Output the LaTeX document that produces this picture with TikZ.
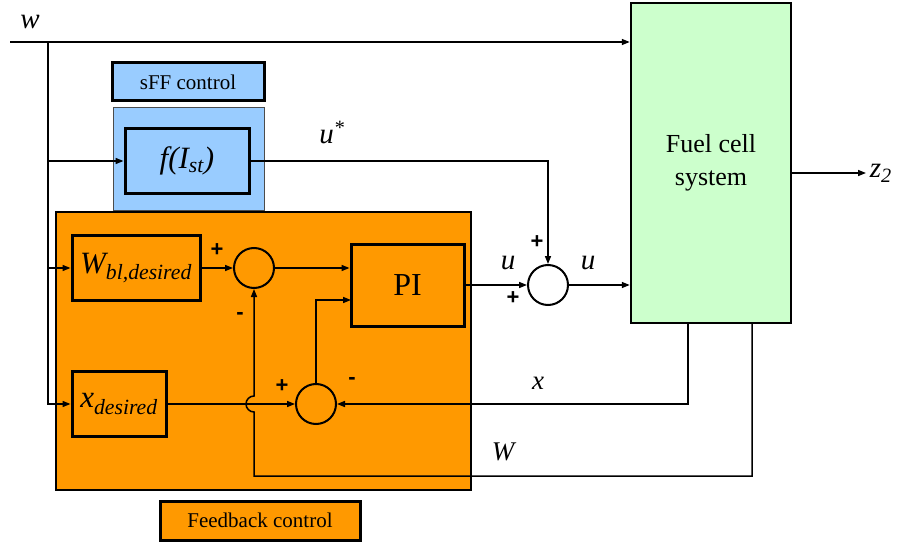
\documentclass[tikz,border=0pt]{standalone}
\usepackage{fontspec}
\setmainfont{Liberation Serif}
\newfontfamily\signfont{Liberation Sans}
\usetikzlibrary{arrows.meta}

\definecolor{laranja}{HTML}{FF9900}
\definecolor{azul}{HTML}{99CCFF}
\definecolor{verde}{HTML}{CCFFCC}

\newcommand{\tam}[2]{\fontsize{#1}{#2}\selectfont}
\newcommand{\sub}[1]{\textsubscript{\itshape #1}}

\tikzset{
  >={Triangle[length=8pt,width=6pt]},
  bloco/.style={draw, line width=3pt, inner sep=0pt, font=\tam{31}{37}\itshape},
  soma/.style={draw, circle, line width=2pt, minimum size=40pt, inner sep=0pt},
  sinal/.style={font=\signfont\bfseries\tam{22}{22}, inner sep=0pt},
  rotulo/.style={font=\tam{29}{29}\itshape, inner sep=1pt},
  legenda/.style={draw, line width=3pt, font=\tam{21}{21}, inner sep=0pt},
}

\begin{document}
\begin{tikzpicture}[x=1pt, y=-1pt, line width=1.5pt]
        \useasboundingbox (0,0) rectangle (911,543);

        % caixas de fundo
        \node[draw, line width=1.2pt, fill=laranja, minimum width=415pt, minimum height=278pt] (fbarea) at (263.5,351) {};
        \node[draw=black!70, line width=1pt, fill=azul, minimum width=151pt, minimum height=102pt] (sffarea) at (188.5,159) {};

        % legendas
        \node[legenda, fill=azul, minimum width=152pt, minimum height=38pt] (sfflab) at (188,82) {sFF control};
        \node[legenda, fill=laranja, minimum width=200pt, minimum height=39pt] (fblab) at (260,520.5) {Feedback control};

        % blocos
        \node[bloco, fill=azul, minimum width=124pt, minimum height=65pt] (fist) at (187,161) {f(I\sub{st})};
        \node[bloco, minimum width=128pt, minimum height=65pt] (Wd) at (136,268) {W\sub{bl,desired}};
        \node[bloco, minimum width=94pt, minimum height=65pt] (xd) at (119,404) {x\sub{desired}};
        \node[bloco, minimum width=113pt, minimum height=82pt, font=\tam{32}{32}] (pi) at (407.5,285) {PI};
        \node[draw, line width=2.5pt, fill=verde, minimum width=160pt, minimum height=320pt,
              align=center, font=\tam{26}{33}] (fcs) at (711,163) {Fuel cell\\system};

        % somadores
        \node[soma] (s1) at (254,268) {};
        \node[soma] (s2) at (316,404) {};
        \node[soma] (s3) at (548,285) {};

        % sinais
        \node[sinal] (s1p) at (217,250) {+};
        \node[sinal] (s1m) at (240,316) {-};
        \node[sinal] (s2p) at (282,386) {+};
        \node[sinal] (s2m) at (352,381) {-};
        \node[sinal] (s3p) at (537,242) {+};
        \node[sinal] (s3q) at (513,298) {+};

        % rotulos
        \node[rotulo] (wlab) at (30,22) {w};
        \node[rotulo] (ustar) at (332,133) {u\textsuperscript{*}};
        \node[rotulo] (ua) at (508,263) {u};
        \node[rotulo] (ub) at (588,263) {u};
        \node[rotulo, font=\tam{27}{27}\itshape] (xlab) at (538,383) {x};
        \node[rotulo, font=\tam{27}{27}\itshape] (Wlab) at (503,452) {W};
        \node[rotulo, anchor=west, inner sep=3pt] (z2) at (866,173) {z\sub{2}};

        % pontos auxiliares
        \coordinate (win) at (10,42);
        \coordinate (wbr) at (48,42);
        \coordinate (piin) at (351,300);
        \coordinate (xout) at (688,323);
        \coordinate (Wout) at (752,323);
        \coordinate (wbase) at (254,476);
        \coordinate (hop) at (s1 |- s2);

        % entrada w
        \draw[->] (win) -- (win -| fcs.west);
        \draw[->] (wbr) |- (xd.west);
        \draw[->] (wbr |- fist.west) -- (fist.west);
        \draw[->] (wbr |- Wd.west) -- (Wd.west);

        % caminho direto
        \draw[->] (fist.east) -| (s3.north);
        \draw[->] (Wd.east) -- (s1.west);
        \draw[->] (s1.east) -- (s1.east -| pi.west);
        \draw[->] (xd.east) -- (s2.west);
        \draw[->] (s2.north) |- (piin);
        \draw[->] (pi.east) -- (s3.west);
        \draw[->] (s3.east) -- (s3.east -| fcs.west);
        \draw[->] (fcs.east |- z2.west) -- (z2.west);

        % realimentacao
        \draw[->] (xout) |- (s2.east);
        \draw[->] (Wout) |- (wbase) -- ([yshift=-8pt]hop) arc[start angle=90, end angle=270, radius=8] -- (s1.south);

\end{tikzpicture}
\end{document}
